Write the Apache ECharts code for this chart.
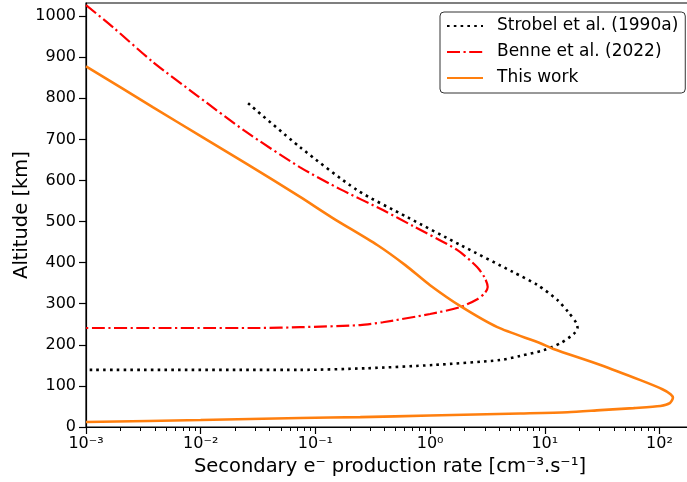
<!DOCTYPE html>
<html>
<head>
<meta charset="utf-8">
<script src="https://cdn.jsdelivr.net/npm/echarts@6/dist/echarts.min.js"></script>
<style>html,body{margin:0;padding:0;background:#fff;}#c{width:687px;height:482px;}</style>
</head>
<body>
<div id="c"></div>
<script>
// Strobel et al. (1990a)
var strobelRate = [0.0259, 0.0736, 0.23, 0.63, 1.84, 5.3, 8.6, 12.9, 16.0, 18.9, 19.3, 17.8, 13.7, 9.8, 6.1, 4.1, 1.07, 0.28, 0.074, 0.001];
var strobelAlt  = [788, 681, 577, 511, 443, 377, 346, 309, 280, 253, 241, 226, 204, 187, 173, 163, 151, 143, 139, 139];
// Benne et al. (2022)
var benneRate = [0.001, 0.00172, 0.00385, 0.00948, 0.0244, 0.0736, 0.164, 0.388, 0.71, 1.72, 2.58, 3.0, 3.18, 3.0, 2.58, 1.84, 1.0, 0.388, 0.246, 0.0736, 0.033, 0.001];
var benneAlt  = [1027, 973, 888, 805, 720, 632, 579, 528, 489, 431, 389, 363, 341, 326, 311, 292, 275, 255, 248, 243, 241, 241];
// This work
var workRate = [0.001, 0.00385, 0.01, 0.0254, 0.0736, 0.143, 0.346, 0.608, 1.0, 1.84, 3.86, 9.16, 11.9, 30.6, 68.2, 106, 125, 131, 123, 102, 59.5, 30.6, 15.8, 6.1, 1.0, 0.246, 0.0736, 0.01, 0.001];
var workAlt  = [878, 778, 708, 640, 560, 508, 443, 394, 345, 294, 243, 204, 190, 151, 114, 92, 80, 71, 58, 51, 46, 41, 36, 33, 28, 24, 22, 17, 12];

var seriesNames = ['Strobel et al. (1990a)', 'Benne et al. (2022)', 'This work'];
var xMajorTicks = [0.001, 0.01, 0.1, 1, 10, 100];
var yTicks = [0, 100, 200, 300, 400, 500, 600, 700, 800, 900, 1000];
var xTitle = 'Secondary e\u207B production rate [cm\u207B\u00B3.s\u207B\u00B9]';
var yTitle = 'Altitude [km]';

function pairs(xs, ys) { return xs.map(function (v, i) { return [v, ys[i]]; }); }
var minorTicks = [];
for (var e = -3; e <= 2; e++) {
  for (var k = 2; k <= 9; k++) {
    var v = parseFloat((k * Math.pow(10, e)).toPrecision(6));
    if (v <= 200) minorTicks.push(v);
  }
}
var supMap = {'-': '\u207B', '0': '\u2070', '1': '\u00B9', '2': '\u00B2', '3': '\u00B3', '4': '\u2074', '5': '\u2075', '6': '\u2076', '7': '\u2077', '8': '\u2078', '9': '\u2079'};
function powLabel(v) {
  var ex = String(Math.round(Math.log10(v)));
  return '10' + ex.split('').map(function (c) { return supMap[c]; }).join('');
}
var FONT = 'DejaVu Sans';

var chart = echarts.init(document.getElementById('c'), null, {renderer: 'canvas'});
chart.setOption({
  animation: false,
  backgroundColor: '#fff',
  grid: {left: 86, right: -7, top: 3, bottom: 55, show: true, borderColor: '#000', borderWidth: 1.2, containLabel: false, outerBoundsMode: 'none'},
  legend: {
    orient: 'vertical', left: 440, top: 12,
    padding: [5, 7, 6, 6], itemGap: 8, itemWidth: 36, itemHeight: 14,
    backgroundColor: '#fff', borderColor: '#333', borderWidth: 1, borderRadius: 4,
    itemStyle: {opacity: 0},
    textStyle: {fontFamily: FONT, fontSize: 17, lineHeight: 18, color: '#000', padding: [0, 0, 0, 9]},
    data: seriesNames
  },
  xAxis: [{
    type: 'log', logBase: 10, min: 0.001, max: 200,
    name: xTitle, nameLocation: 'middle', nameGap: 25,
    nameTextStyle: {fontFamily: FONT, fontSize: 19.5, color: '#000'},
    axisLine: {show: true, lineStyle: {color: '#000', width: 1.2}},
    axisTick: {show: true, length: 7, lineStyle: {color: '#000', width: 1.2}, customValues: xMajorTicks},
    axisLabel: {show: true, margin: 9, fontFamily: FONT, fontSize: 16, color: '#000', customValues: xMajorTicks, formatter: powLabel},
    splitLine: {show: false}, minorTick: {show: false}
  }, {
    type: 'log', logBase: 10, min: 0.001, max: 200, position: 'bottom',
    axisLine: {show: false},
    axisTick: {show: true, length: 4, lineStyle: {color: '#000', width: 1}, customValues: minorTicks},
    axisLabel: {show: false},
    splitLine: {show: false}
  }],
  yAxis: {
    type: 'value', min: 0, max: 1032,
    name: yTitle, nameLocation: 'middle', nameGap: 54, nameMoveOverlap: false,
    nameTextStyle: {fontFamily: FONT, fontSize: 19.5, color: '#000'},
    axisLine: {show: true, lineStyle: {color: '#000', width: 1.2}},
    axisTick: {show: true, length: 7, lineStyle: {color: '#000', width: 1.2}, customValues: yTicks},
    axisLabel: {show: true, margin: 10, fontFamily: FONT, fontSize: 16, color: '#000', customValues: yTicks, formatter: function (v) { return String(v); }},
    splitLine: {show: false}
  },
  series: [{
    name: seriesNames[0], type: 'line', data: pairs(strobelRate, strobelAlt),
    symbol: 'none', smooth: 0.25, color: '#000',
    lineStyle: {color: '#000', width: 2.6, type: [2.6, 4.2], cap: 'butt'}
  }, {
    name: seriesNames[1], type: 'line', data: pairs(benneRate, benneAlt),
    symbol: 'none', smooth: 0.25, color: '#ff0000',
    lineStyle: {color: '#ff0000', width: 2.2, type: [13, 3.5, 2.2, 3.5], cap: 'butt'}
  }, {
    name: seriesNames[2], type: 'line', data: pairs(workRate, workAlt),
    symbol: 'none', smooth: 0.25, color: '#ff7f0e',
    lineStyle: {color: '#ff7f0e', width: 2.6}
  }]
});
</script>
</body>
</html>
